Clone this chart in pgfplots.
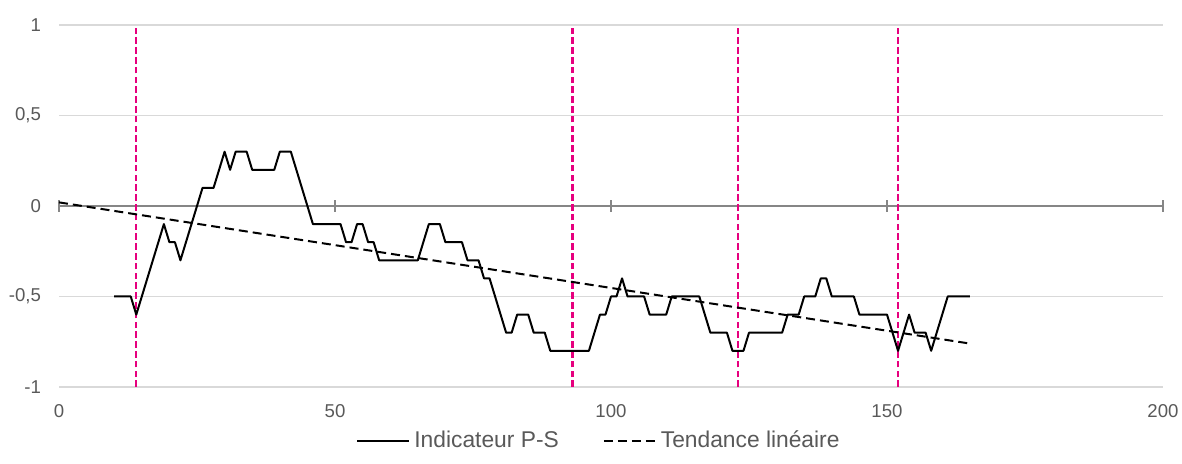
\documentclass[border=0pt]{standalone}
\usepackage{fontspec}
\setmainfont{Liberation Sans}
\usepackage{pgfplots}
\pgfplotsset{compat=1.18}
\definecolor{gridc}{HTML}{D9D9D9}
\definecolor{axisc}{HTML}{868686}
\definecolor{labc}{HTML}{595959}
\definecolor{mag}{HTML}{E6007E}

\begin{document}
\begin{tikzpicture}
\begin{axis}[
  scale only axis, width=552pt, height=181pt,
  xmin=0, xmax=200, ymin=-1, ymax=1,
  axis line style={draw=none},
  major tick length=0pt,
  xtick={0,50,100,150,200}, xticklabels={0,50,100,150,200},
  ytick={-1,-0.5,0,0.5,1}, yticklabels={{-1},{-0,5},{0},{0,5},{1}},
  ymajorgrids, grid style={gridc, line width=0.75pt},
  tick label style={font=\fontsize{9.3}{10}\selectfont, text=labc},
  xticklabel style={yshift=-5pt},
  yticklabel style={xshift=-5.5pt},
  clip=false,
  legend columns=2,
  legend cell align=left,
  legend style={at={(0.49,-0.149)}, anchor=center, draw=none, fill=none,
    font=\fontsize{11.4}{13}\selectfont, text=labc,
    /tikz/every even column/.append style={column sep=20pt}},
  legend image code/.code={\draw[#1] (0pt,0pt) -- (26pt,0pt);},
]
% zero axis line with crossing ticks
\draw[axisc, line width=0.9pt] (axis cs:0,0) -- (axis cs:200,0);
\pgfplotsinvokeforeach{0,50,100,150,200}{
  \draw[axisc, line width=0.9pt] ([yshift=-3pt]axis cs:#1,0) -- ([yshift=3pt]axis cs:#1,0);
}
% vertical markers
\addplot[mag, line width=1.2pt, dash pattern=on 3.3pt off 1.6pt, forget plot] coordinates {(14,-1) (14,1)};
\addplot[mag, line width=1.2pt, dash pattern=on 3.3pt off 1.6pt, forget plot] coordinates {(93,-1) (93,1)};
\addplot[mag, line width=1.2pt, dash pattern=on 3.3pt off 1.6pt, forget plot] coordinates {(123,-1) (123,1)};
\addplot[mag, line width=1.2pt, dash pattern=on 3.3pt off 1.6pt, forget plot] coordinates {(152,-1) (152,1)};
% indicator
\addplot[black, line width=1pt, line join=round] table {
x y
10 -0.5
11 -0.5
12 -0.5
13 -0.5
14 -0.6
15 -0.5
16 -0.4
17 -0.3
18 -0.2
19 -0.1
20 -0.2
21 -0.2
22 -0.3
23 -0.2
24 -0.1
25 0
26 0.1
27 0.1
28 0.1
29 0.2
30 0.3
31 0.2
32 0.3
33 0.3
34 0.3
35 0.2
36 0.2
37 0.2
38 0.2
39 0.2
40 0.3
41 0.3
42 0.3
43 0.2
44 0.1
45 0
46 -0.1
47 -0.1
48 -0.1
49 -0.1
50 -0.1
51 -0.1
52 -0.2
53 -0.2
54 -0.1
55 -0.1
56 -0.2
57 -0.2
58 -0.3
59 -0.3
60 -0.3
61 -0.3
62 -0.3
63 -0.3
64 -0.3
65 -0.3
66 -0.2
67 -0.1
68 -0.1
69 -0.1
70 -0.2
71 -0.2
72 -0.2
73 -0.2
74 -0.3
75 -0.3
76 -0.3
77 -0.4
78 -0.4
79 -0.5
80 -0.6
81 -0.7
82 -0.7
83 -0.6
84 -0.6
85 -0.6
86 -0.7
87 -0.7
88 -0.7
89 -0.8
90 -0.8
91 -0.8
92 -0.8
93 -0.8
94 -0.8
95 -0.8
96 -0.8
97 -0.7
98 -0.6
99 -0.6
100 -0.5
101 -0.5
102 -0.4
103 -0.5
104 -0.5
105 -0.5
106 -0.5
107 -0.6
108 -0.6
109 -0.6
110 -0.6
111 -0.5
112 -0.5
113 -0.5
114 -0.5
115 -0.5
116 -0.5
117 -0.6
118 -0.7
119 -0.7
120 -0.7
121 -0.7
122 -0.8
123 -0.8
124 -0.8
125 -0.7
126 -0.7
127 -0.7
128 -0.7
129 -0.7
130 -0.7
131 -0.7
132 -0.6
133 -0.6
134 -0.6
135 -0.5
136 -0.5
137 -0.5
138 -0.4
139 -0.4
140 -0.5
141 -0.5
142 -0.5
143 -0.5
144 -0.5
145 -0.6
146 -0.6
147 -0.6
148 -0.6
149 -0.6
150 -0.6
151 -0.7
152 -0.8
153 -0.7
154 -0.6
155 -0.7
156 -0.7
157 -0.7
158 -0.8
159 -0.7
160 -0.6
161 -0.5
162 -0.5
163 -0.5
164 -0.5
165 -0.5
};
\addlegendentry{Indicateur P-S}
% linear trend
\addplot[black, line width=1pt, dash pattern=on 4.5pt off 2.5pt] coordinates {(0,0.02) (165,-0.76)};
\addlegendentry{Tendance linéaire}
\end{axis}
\path (current axis.south west) ++(-29.5pt,-38.5pt) coordinate (bl);
\path (current axis.north east) ++(9.5pt,12.5pt) coordinate (tr);
\pgfresetboundingbox
\useasboundingbox (bl) rectangle (tr);
\end{tikzpicture}
\end{document}
